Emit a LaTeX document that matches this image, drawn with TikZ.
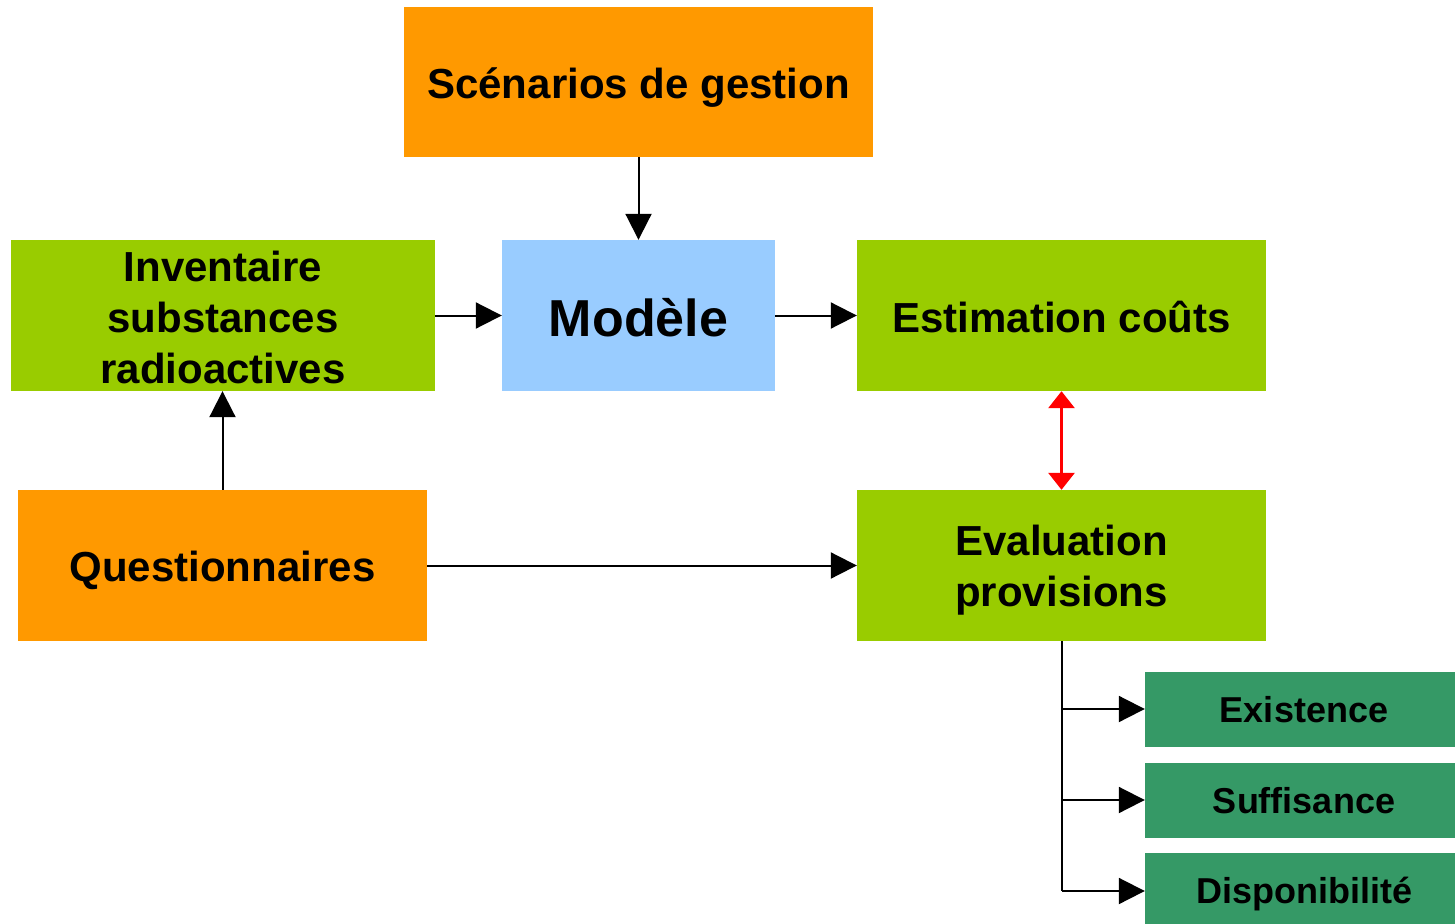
\documentclass[tikz,border=0pt]{standalone}
\usepackage{fontspec}
\setmainfont{Liberation Sans}
\usetikzlibrary{arrows.meta}
\definecolor{orng}{HTML}{FF9900}
\definecolor{lgreen}{HTML}{99CC00}
\definecolor{lblue}{HTML}{99CCFF}
\definecolor{dgreen}{HTML}{359966}
\begin{document}
\begin{tikzpicture}[x=1pt,y=-1pt,
  box/.style={draw=none, inner sep=0pt},
  txt/.style={inner sep=0pt, align=center, text=black,
    font=\bfseries\fontsize{42}{51}\selectfont},
  smalltxt/.style={txt, font=\bfseries\fontsize{36}{43}\selectfont},
  smallbox/.style={box, fill=dgreen, minimum width=310pt, minimum height=75pt},
  arr/.style={-{Triangle[length=26pt,width=26pt]}, line width=2pt},
  redarr/.style={{Triangle[length=17pt,width=26pt]}-{Triangle[length=17pt,width=26pt]}, line width=3pt, draw=red}]
\useasboundingbox (0,0) rectangle (1455,923);
\node[box, fill=orng, minimum width=469pt, minimum height=150pt] (scen) at (638.5,82) {};
\node[txt] (scent) at ([yshift=-6pt]scen.center) {Scénarios de gestion};
\node[box, fill=lgreen, minimum width=424pt, minimum height=151pt] (inv) at (223,315.5) {};
\node[txt] (invt) at ([yshift=-2pt]inv.center) {Inventaire\\substances\\radioactives};
\node[box, fill=lblue, minimum width=273pt, minimum height=151pt] (mod) at (638.5,315.5) {};
\node[txt, font=\bfseries\fontsize{52}{62}\selectfont] (modt) at ([yshift=-2pt]mod.center) {Modèle};
\node[box, fill=lgreen, minimum width=409pt, minimum height=151pt] (est) at (1061.5,315.5) {};
\node[txt] (estt) at ([yshift=-2pt]est.center) {Estimation coûts};
\node[box, fill=orng, minimum width=409pt, minimum height=151pt] (quest) at (222.5,565.5) {};
\node[txt] (questt) at ([yshift=-5pt]quest.center) {Questionnaires};
\node[box, fill=lgreen, minimum width=409pt, minimum height=151pt] (eval) at (1061.5,565.5) {};
\node[txt] (evalt) at ([yshift=-5pt]eval.center) {Evaluation\\provisions};
\node[smallbox] (exist) at (1300,709) {};
\node[smalltxt] (existt) at ([xshift=4pt,yshift=-1pt]exist.center) {Existence};
\node[smallbox] (suff) at (1300,800) {};
\node[smalltxt] (sufft) at ([xshift=4pt,yshift=-1pt]suff.center) {Suffisance};
\node[smallbox, minimum height=76pt] (disp) at (1300,891) {};
\node[smalltxt] (dispt) at ([xshift=4pt,yshift=-3pt]disp.center) {Disponibilité};
\draw[arr] (scen) -- (mod);
\draw[arr] (inv) -- (mod);
\draw[arr] (mod) -- (est);
\draw[arr] (quest.north) -- (quest.north |- inv.south);
\draw[arr] (quest) -- (eval);
\draw[redarr] (est) -- (eval);
\draw[line width=2pt] (eval.south) -- (eval.south |- disp.west);
\draw[arr] (eval.south |- exist.west) -- (exist.west);
\draw[arr] (eval.south |- suff.west) -- (suff.west);
\draw[arr] (eval.south |- disp.west) -- (disp.west);
\end{tikzpicture}
\end{document}
